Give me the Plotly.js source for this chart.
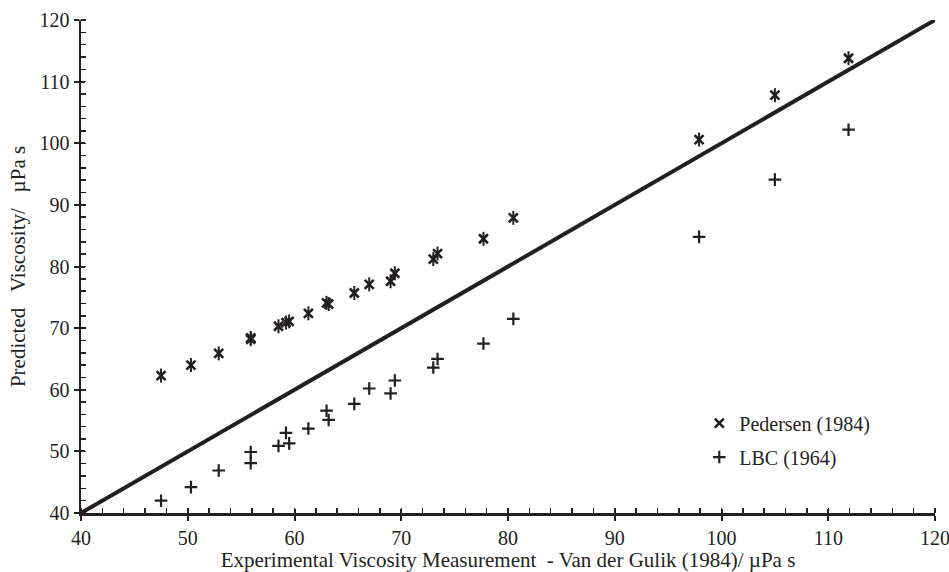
<!DOCTYPE html>
<html>
<head>
<meta charset="utf-8">
<script src="https://cdn.plot.ly/plotly-3.0.1.min.js"></script>
<style>html,body{margin:0;padding:0;background:#fff;}#chart{width:949px;height:572px;}</style>
</head>
<body>
<div id="chart"></div>
<script>
// Experimental viscosity (Van der Gulik 1984), µPa s
const experimental = [47.5, 50.3, 52.9, 55.9, 55.9, 58.5, 59.2, 59.5, 61.3, 63.0, 63.2, 65.6, 67.0, 69.0, 69.4, 73.0, 73.4, 77.7, 80.5, 97.9, 105.0, 111.9];
// Predicted viscosity, Pedersen (1984)
const pedersen = [62.3, 64.0, 65.9, 68.2, 68.4, 70.3, 70.9, 71.1, 72.4, 74.1, 73.9, 75.7, 77.1, 77.6, 78.9, 81.2, 82.1, 84.5, 87.9, 100.6, 107.8, 113.8];
// Predicted viscosity, LBC (1964)
const lbc = [42.0, 44.2, 46.9, 48.1, 49.9, 50.9, 53.0, 51.3, 53.7, 56.6, 55.1, 57.7, 60.2, 59.4, 61.5, 63.6, 65.0, 67.5, 71.5, 84.8, 94.1, 102.2];
// Parity line y = x
const parityX = [40, 120];
const parityY = [40, 120];
const seriesNames = ["Pedersen (1984)", "LBC (1964)"];

const ink = "#231f20";
const font = {family: "Liberation Serif, Times New Roman, serif", size: 20, color: ink};
const titleFont = {family: "Liberation Serif, Times New Roman, serif", size: 21, color: ink};

const traces = [
  {x: parityX, y: parityY, mode: "lines", line: {color: ink, width: 4}, showlegend: false, hoverinfo: "skip"},
  {x: experimental, y: pedersen, mode: "markers", name: seriesNames[0], legendgroup: "a",
   marker: {symbol: "x-thin-open", size: 9, color: ink, line: {color: ink, width: 2.6}}},
  {x: experimental, y: pedersen, mode: "markers", showlegend: false, legendgroup: "a",
   marker: {symbol: "line-ns-open", size: 10, color: ink, line: {color: ink, width: 2}}},
  {x: experimental, y: lbc, mode: "markers", name: seriesNames[1], legendgroup: "b",
   marker: {symbol: "cross-thin-open", size: 9, color: ink, line: {color: ink, width: 2.2}}}
];

const axisCommon = {
  range: [40, 120], dtick: 10, tick0: 40, showgrid: false, zeroline: false,
  showline: true, linecolor: ink, linewidth: 2.5,
  ticks: "outside", ticklen: 5, tickwidth: 2, tickcolor: ink,
  minor: {dtick: 2, ticks: "inside", ticklen: 5, tickwidth: 1.5, tickcolor: ink},
  tickfont: font, ticklabeloverflow: "allow", fixedrange: true
};

const layout = {
  width: 949, height: 572,
  margin: {l: 81, r: 14, t: 20, b: 59},
  paper_bgcolor: "#fff", plot_bgcolor: "#fff",
  font: font,
  showlegend: true,
  legend: {x: 0.724, y: 0.222, xanchor: "left", yanchor: "top", bgcolor: "rgba(0,0,0,0)",
           font: font, traceorder: "grouped", tracegroupgap: 5, itemwidth: 30},
  xaxis: Object.assign({}, axisCommon, {
    title: {text: "Experimental Viscosity Measurement \u00a0- Van der Gulik (1984)/ \u00b5Pa s", font: titleFont, standoff: 10},
    automargin: false
  }),
  yaxis: Object.assign({}, axisCommon, {
    title: {text: "Predicted \u00a0\u00a0Viscosity/ \u00a0\u00a0\u00b5Pa s", font: titleFont, standoff: 8},
    automargin: false
  }),
  xaxis2: {overlaying: "x", anchor: "y", range: [40, 120], dtick: 10, tick0: 40, showgrid: false, zeroline: false,
           showline: false, ticks: "inside", ticklen: 4, tickwidth: 2, tickcolor: ink, showticklabels: false, side: "bottom", fixedrange: true},
  yaxis2: {overlaying: "y", anchor: "x", range: [40, 120], dtick: 10, tick0: 40, showgrid: false, zeroline: false,
           showline: false, ticks: "inside", ticklen: 4, tickwidth: 2, tickcolor: ink, showticklabels: false, side: "left", fixedrange: true}
};

// Invisible helper so the overlay axes (cross ticks) are drawn
traces.push({x: parityX, y: parityY, xaxis: "x2", yaxis: "y2", mode: "lines", line: {width: 0}, showlegend: false, hoverinfo: "skip"});

Plotly.newPlot("chart", traces, layout, {displayModeBar: false, staticPlot: true});
</script>
</body>
</html>
